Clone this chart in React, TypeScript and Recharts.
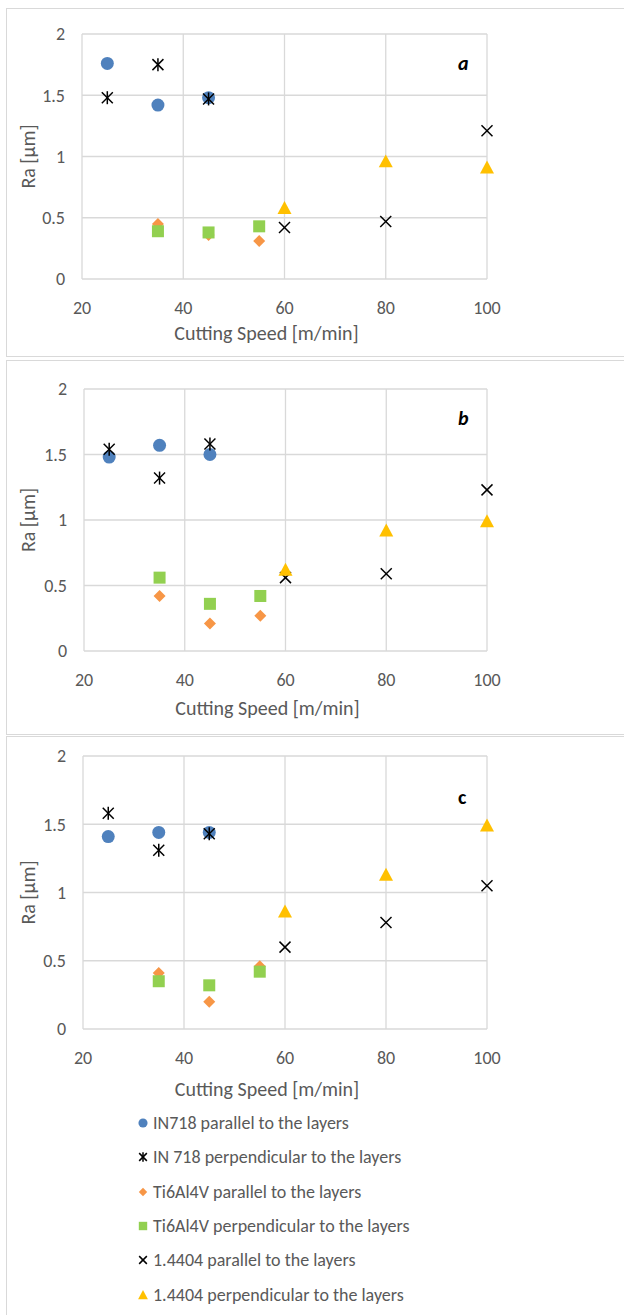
import { ScatterChart, Scatter, XAxis, YAxis, CartesianGrid } from 'recharts'

const FONT = "Carlito, 'Liberation Sans Narrow', Lato, sans-serif"

// cutting speeds per material
const speedsIN718 = [25, 35, 45]
const speedsTi = [35, 45, 55]
const speeds14404 = [60, 80, 100]

const xTicks = [20, 40, 60, 80, 100]
const yTicks = [0, 0.5, 1, 1.5, 2]

// panel a
const aIN718Par = [1.76, 1.42, 1.48]
const aIN718Perp = [1.48, 1.75, 1.47]
const aTiPar = [0.45, 0.36, 0.31]
const aTiPerp = [0.39, 0.38, 0.43]
const aSSPar = [0.42, 0.47, 1.21]
const aSSPerp = [0.58, 0.96, 0.91]

// panel b
const bIN718Par = [1.48, 1.57, 1.5]
const bIN718Perp = [1.54, 1.32, 1.58]
const bTiPar = [0.42, 0.21, 0.27]
const bTiPerp = [0.56, 0.36, 0.42]
const bSSPar = [0.56, 0.59, 1.23]
const bSSPerp = [0.62, 0.92, 0.99]

// panel c
const cIN718Par = [1.41, 1.44, 1.44]
const cIN718Perp = [1.58, 1.31, 1.43]
const cTiPar = [0.41, 0.2, 0.46]
const cTiPerp = [0.35, 0.32, 0.42]
const cSSPar = [0.6, 0.78, 1.05]
const cSSPerp = [0.86, 1.13, 1.49]

const seriesNames = [
  'IN718 parallel to the layers',
  'IN 718 perpendicular to the layers',
  'Ti6Al4V parallel to the layers',
  'Ti6Al4V perpendicular to the layers',
  '1.4404 parallel to the layers',
  '1.4404 perpendicular to the layers',
]
const markerKinds = ['circle', 'star', 'diamond', 'square', 'x', 'triangle']

const pts = (xs: number[], ys: number[]) => xs.map((x, i) => ({ x, y: ys[i] }))

function Marker({ kind, cx, cy, s = 1 }: { kind: string; cx: number; cy: number; s?: number }) {
  switch (kind) {
    case 'circle':
      return <circle cx={cx} cy={cy} r={6.5 * s} fill="#4F81BD" />
    case 'star': {
      const d = 5.5 * s
      return (
        <g stroke="#000" strokeWidth={1.5}>
          <line x1={cx - d} y1={cy - d} x2={cx + d} y2={cy + d} />
          <line x1={cx - d} y1={cy + d} x2={cx + d} y2={cy - d} />
          <line x1={cx} y1={cy - d - 1} x2={cx} y2={cy + d + 1} />
        </g>
      )
    }
    case 'diamond': {
      const d = 6 * s
      return <path d={`M${cx},${cy - d}L${cx + d},${cy}L${cx},${cy + d}L${cx - d},${cy}Z`} fill="#F79646" />
    }
    case 'square': {
      const d = 6 * s
      return <rect x={cx - d} y={cy - d} width={2 * d} height={2 * d} fill="#92D050" />
    }
    case 'x': {
      const d = 5.5 * s
      return (
        <g stroke="#000" strokeWidth={1.5}>
          <line x1={cx - d} y1={cy - d} x2={cx + d} y2={cy + d} />
          <line x1={cx - d} y1={cy + d} x2={cx + d} y2={cy - d} />
        </g>
      )
    }
    default: {
      const d = 7 * s
      return <path d={`M${cx},${cy - d}L${cx + d},${cy + d * 0.85}L${cx - d},${cy + d * 0.85}Z`} fill="#FFC000" />
    }
  }
}

function LegendList() {
  return (
    <div style={{ position: 'absolute', left: 137, top: 1106, fontFamily: FONT }}>
      {seriesNames.map((n, i) => (
        <div key={n} style={{ display: 'flex', alignItems: 'center', height: 34.3, fontSize: 18, color: '#595959' }}>
          <svg width={12} height={14} style={{ marginRight: 4 }}>
            <Marker kind={markerKinds[i]} cx={6} cy={7} s={0.7} />
          </svg>
          {n}
        </div>
      ))}
    </div>
  )
}

type PanelProps = {
  top: number
  height: number
  marginTop: number
  axisW: number
  titleOffset: number
  letter: string
  letterY: number
  italic: boolean
  series: number[][]
}

function Panel(p: PanelProps) {
  const xsets = [speedsIN718, speedsIN718, speedsTi, speedsTi, speeds14404, speeds14404]
  return (
    <div style={{ position: 'absolute', left: 0, top: p.top }}>
      <ScatterChart
        width={624}
        height={p.height}
        margin={{ top: p.marginTop, right: 137, left: 0, bottom: 0 }}
        style={{ fontFamily: FONT }}
      >
        <CartesianGrid stroke="#D9D9D9" strokeWidth={1.3} />
        <XAxis
          type="number"
          dataKey="x"
          domain={[20, 100]}
          ticks={xTicks}
          axisLine={false}
          tickLine={false}
          tickSize={0}
          tickMargin={22}
          height={71}
          tick={{ fill: '#595959', fontSize: 18 }}
          label={{ value: 'Cutting Speed [m/min]', position: 'insideBottom', offset: p.titleOffset, dx: -18, fill: '#595959', fontSize: 20 }}
        />
        <YAxis
          type="number"
          dataKey="y"
          domain={[0, 2]}
          ticks={yTicks}
          axisLine={false}
          tickLine={false}
          tickSize={0}
          tickMargin={17}
          width={p.axisW}
          tick={{ fill: '#595959', fontSize: 18 }}
          label={{
            content: (lp: any) => {
              const vb = lp.viewBox
              const cy = vb.y + vb.height / 2
              return (
                <text x={28} y={cy} textAnchor="middle" dominantBaseline="central" fill="#595959" fontSize={20} transform={`rotate(-90 28 ${cy})`}>
                  Ra [µm]
                </text>
              )
            },
          }}
        />
        {p.series.map((ys, i) => (
          <Scatter
            key={seriesNames[i]}
            name={seriesNames[i]}
            data={pts(xsets[i], ys)}
            isAnimationActive={false}
            shape={(sp: any) => <Marker kind={markerKinds[i]} cx={sp.cx} cy={sp.cy} />}
          />
        ))}
      </ScatterChart>
      <span
        style={{
          position: 'absolute',
          left: 458,
          top: p.letterY - p.top - 13,
          fontFamily: FONT,
          fontSize: 20,
          fontWeight: 'bold',
          fontStyle: p.italic ? 'italic' : 'normal',
          color: '#000',
        }}
      >
        {p.letter}
      </span>
    </div>
  )
}

const border = '1px solid #D9D9D9'

export default function App() {
  return (
    <div style={{ position: 'absolute', left: 0, top: 0, width: 624, height: 1315, overflow: 'hidden', background: '#fff' }}>
      <div style={{ position: 'absolute', left: 6, top: 8, width: 640, height: 349, border, boxSizing: 'border-box' }} />
      <div style={{ position: 'absolute', left: 6, top: 360, width: 640, height: 375, border, boxSizing: 'border-box' }} />
      <div style={{ position: 'absolute', left: 6, top: 736, width: 640, height: 600, border, boxSizing: 'border-box' }} />
      <Panel top={0} height={350} marginTop={34} axisW={82} titleOffset={10} letter="a" letterY={64} italic
        series={[aIN718Par, aIN718Perp, aTiPar, aTiPerp, aSSPar, aSSPerp]} />
      <Panel top={360} height={362} marginTop={29} axisW={84} titleOffset={7} letter="b" letterY={419} italic
        series={[bIN718Par, bIN718Perp, bTiPar, bTiPerp, bSSPar, bSSPerp]} />
      <Panel top={730} height={370} marginTop={26} axisW={83} titleOffset={4} letter="c" letterY={798} italic={false}
        series={[cIN718Par, cIN718Perp, cTiPar, cTiPerp, cSSPar, cSSPerp]} />
      <LegendList />
    </div>
  )
}
